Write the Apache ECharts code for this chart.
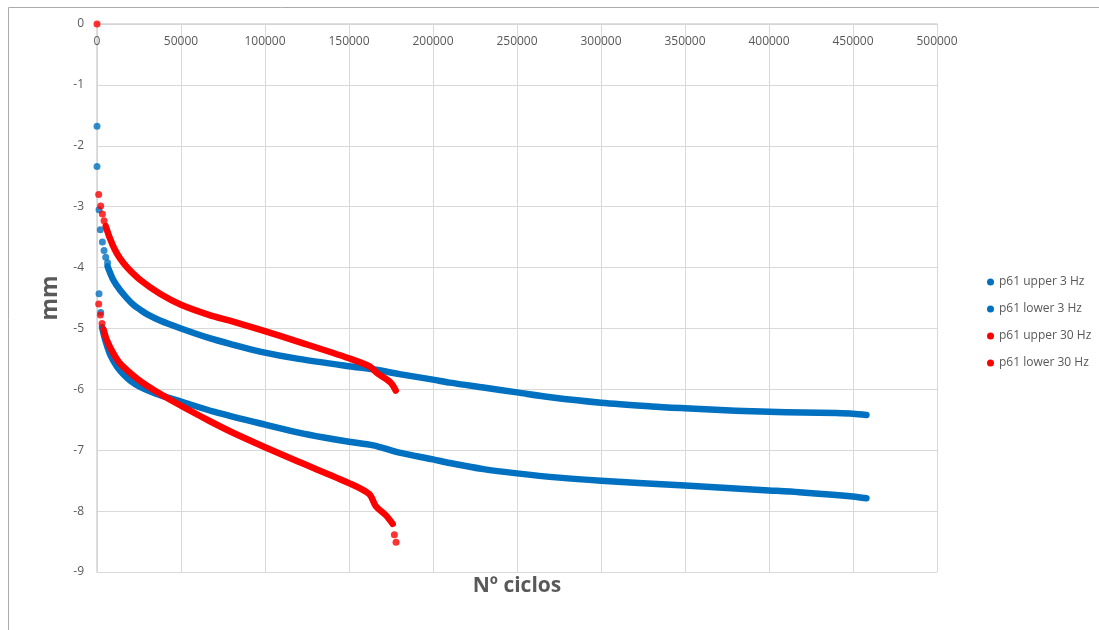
<!DOCTYPE html>
<html>
<head>
<meta charset="utf-8">
<script src="https://cdn.jsdelivr.net/npm/echarts@6/dist/echarts.min.js"></script>
<style>html,body{margin:0;padding:0;background:#fff}#c{width:1099px;height:630px}</style>
</head>
<body>
<div id="c"></div>
<script>
const seriesNames = ['p61 upper 3 Hz', 'p61 lower 3 Hz', 'p61 upper 30 Hz', 'p61 lower 30 Hz'];
const xTicks = [0, 500000, 50000];
const yTicks = [-9, 0, 1];

// sparse isolated dots [ciclos, mm]
const upper3Dots = [[0,-1.68],[0,-2.34],[1200,-3.05],[2000,-3.38],[3200,-3.58],[4200,-3.72],[5200,-3.83],[6300,-3.92]];
const lower3Dots = [[1200,-4.43],[2200,-4.74]];
const upper30Dots = [[0,0],[1000,-2.80],[2200,-2.99],[3200,-3.12],[4200,-3.23]];
const lower30Dots = [[1000,-4.60],[2000,-4.78],[3000,-4.92],[177000,-8.39],[178000,-8.51]];

// dense traces [ciclos, mm]
const upper3 = [[6300,-3.98],[8000,-4.10],[10000,-4.22],[13700,-4.37],[18000,-4.51],[22000,-4.62],[25600,-4.69],[30000,-4.77],[37500,-4.87],[50000,-5.00],[67000,-5.16],[80000,-5.26],[97000,-5.38],[120000,-5.50],[150000,-5.62],[164500,-5.67],[180000,-5.75],[200000,-5.84],[210000,-5.89],[230000,-5.97],[250000,-6.05],[270000,-6.13],[300000,-6.22],[330000,-6.28],[350000,-6.31],[380000,-6.35],[400000,-6.37],[420000,-6.38],[440000,-6.39],[450000,-6.40],[458000,-6.42]];
const lower3 = [[3000,-4.98],[5000,-5.2],[8000,-5.44],[12000,-5.63],[16000,-5.76],[20000,-5.86],[25600,-5.96],[35000,-6.07],[50000,-6.20],[70000,-6.37],[100000,-6.58],[120000,-6.71],[135000,-6.79],[150000,-6.86],[164500,-6.92],[180000,-7.04],[200000,-7.15],[210000,-7.21],[230000,-7.31],[250000,-7.38],[275000,-7.45],[300000,-7.50],[350000,-7.58],[400000,-7.66],[418000,-7.69],[450000,-7.76],[458000,-7.79]];
const upper30 = [[5200,-3.32],[7700,-3.52],[10500,-3.70],[13700,-3.85],[18000,-4.00],[25600,-4.20],[37500,-4.43],[50000,-4.61],[67000,-4.78],[80000,-4.88],[97000,-5.02],[120000,-5.22],[150000,-5.49],[162000,-5.62],[167000,-5.74],[174800,-5.89],[177800,-6.02]];
const lower30 = [[4000,-5.02],[5800,-5.19],[9700,-5.41],[13000,-5.55],[17700,-5.68],[25600,-5.86],[35000,-6.03],[50000,-6.27],[67000,-6.52],[80000,-6.70],[100000,-6.95],[120000,-7.19],[150000,-7.54],[162000,-7.72],[166000,-7.92],[172000,-8.07],[176000,-8.21]];

const colors = ['#0070C0', '#0070C0', '#FF0000', '#FF0000'];
const dense = [upper3, lower3, upper30, lower30];
const dots = [upper3Dots, lower3Dots, upper30Dots, lower30Dots];

const series = [];
seriesNames.forEach((n, i) => {
  series.push({
    name: n, type: 'line', data: dense[i], showSymbol: false, symbol: 'circle',
    smooth: 0.3, color: colors[i],
    lineStyle: { width: 6.5, color: colors[i], cap: 'round', join: 'round' },
    z: 2 + i
  });
  series.push({
    name: n, type: 'scatter', data: dots[i], symbol: 'circle', symbolSize: 7,
    itemStyle: { color: colors[i] }, z: 2 + i
  });
});

const chart = echarts.init(document.getElementById('c'));
chart.setOption({
  animation: false,
  backgroundColor: '#fff',
  textStyle: { fontFamily: '"Open Sans", "Liberation Sans", sans-serif' },
  graphic: [{
    type: 'rect', shape: { x: 8.5, y: 7.5, width: 1200, height: 700 },
    style: { fill: 'none', stroke: '#ababab', lineWidth: 1 }, silent: true
  }],
  grid: { left: 97, top: 24, right: 162, bottom: 58, containLabel: false },
  legend: {
    orient: 'vertical', left: 982, top: 271, itemGap: 15,
    itemWidth: 7, itemHeight: 7,
    textStyle: { color: '#595959', fontSize: 12, fontFamily: '"Open Sans", sans-serif' },
    data: seriesNames.map(n => ({ name: n, icon: 'circle' }))
  },
  xAxis: {
    type: 'value', position: 'top', min: xTicks[0], max: xTicks[1], interval: xTicks[2],
    name: 'Nº ciclos', nameLocation: 'middle', nameGap: -573,
    nameTextStyle: { color: '#595959', fontSize: 21, fontWeight: 'bold', fontFamily: '"Open Sans", sans-serif' },
    axisLine: { show: true, lineStyle: { color: '#d4d4d4', width: 1.5 } },
    axisTick: { show: false },
    axisLabel: { inside: true, margin: 12, color: '#595959', fontSize: 12, formatter: v => String(v) },
    splitLine: { show: true, lineStyle: { color: '#d9d9d9', width: 1 } }
  },
  yAxis: {
    type: 'value', min: yTicks[0], max: yTicks[1], interval: yTicks[2],
    name: 'mm', nameLocation: 'middle', nameGap: 35, nameRotate: 90,
    nameTextStyle: { color: '#595959', fontSize: 23, fontWeight: 'bold', fontFamily: '"Open Sans", sans-serif' },
    axisLine: { show: true, lineStyle: { color: '#d4d4d4', width: 1.5 } },
    axisTick: { show: false },
    axisLabel: { margin: 13, color: '#595959', fontSize: 12 },
    splitLine: { show: true, lineStyle: { color: '#d9d9d9', width: 1 } }
  },
  series: series
});
</script>
</body>
</html>
